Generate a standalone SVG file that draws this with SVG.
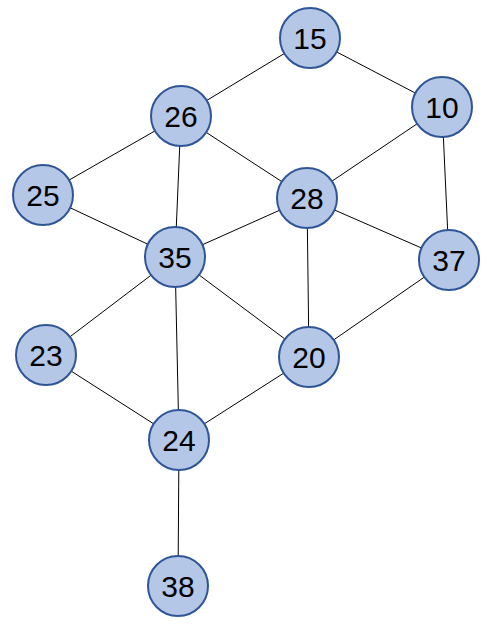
<svg xmlns="http://www.w3.org/2000/svg" width="491" height="630" viewBox="0 0 491 630">
<style>
.n circle{fill:#B4C7E7;stroke:#2F5597;stroke-width:2}
.n text{font-family:"Liberation Sans","DejaVu Sans",sans-serif;font-size:30px;fill:#000;text-anchor:middle;dominant-baseline:central}
#edges line{stroke:#000;stroke-width:1}
</style>
<rect width="491" height="630" fill="#fff"/>
<g id="edges">
<line x1="310" y1="38" x2="181" y2="116"/>
<line x1="310" y1="38" x2="442" y2="107"/>
<line x1="181" y1="116" x2="43" y2="195"/>
<line x1="181" y1="116" x2="307" y2="198"/>
<line x1="181" y1="116" x2="175" y2="257"/>
<line x1="442" y1="107" x2="307" y2="198"/>
<line x1="442" y1="107" x2="449" y2="260"/>
<line x1="43" y1="195" x2="175" y2="257"/>
<line x1="307" y1="198" x2="175" y2="257"/>
<line x1="307" y1="198" x2="449" y2="260"/>
<line x1="307" y1="198" x2="309" y2="357"/>
<line x1="175" y1="257" x2="309" y2="357"/>
<line x1="175" y1="257" x2="46" y2="355"/>
<line x1="175" y1="257" x2="179" y2="440"/>
<line x1="449" y1="260" x2="309" y2="357"/>
<line x1="46" y1="355" x2="179" y2="440"/>
<line x1="309" y1="357" x2="179" y2="440"/>
<line x1="179" y1="440" x2="178" y2="586"/>
</g>
<g id="n15" class="n"><circle cx="310" cy="38" r="30"/><text x="310" y="38">15</text></g>
<g id="n26" class="n"><circle cx="181" cy="116" r="30"/><text x="181" y="116">26</text></g>
<g id="n10" class="n"><circle cx="442" cy="107" r="30"/><text x="442" y="107">10</text></g>
<g id="n25" class="n"><circle cx="43" cy="195" r="30"/><text x="43" y="195">25</text></g>
<g id="n28" class="n"><circle cx="307" cy="198" r="30"/><text x="307" y="198">28</text></g>
<g id="n35" class="n"><circle cx="175" cy="257" r="30"/><text x="175" y="257">35</text></g>
<g id="n37" class="n"><circle cx="449" cy="260" r="30"/><text x="449" y="260">37</text></g>
<g id="n23" class="n"><circle cx="46" cy="355" r="30"/><text x="46" y="355">23</text></g>
<g id="n20" class="n"><circle cx="309" cy="357" r="30"/><text x="309" y="357">20</text></g>
<g id="n24" class="n"><circle cx="179" cy="440" r="30"/><text x="179" y="440">24</text></g>
<g id="n38" class="n"><circle cx="178" cy="586" r="30"/><text x="178" y="586">38</text></g>
</svg>
